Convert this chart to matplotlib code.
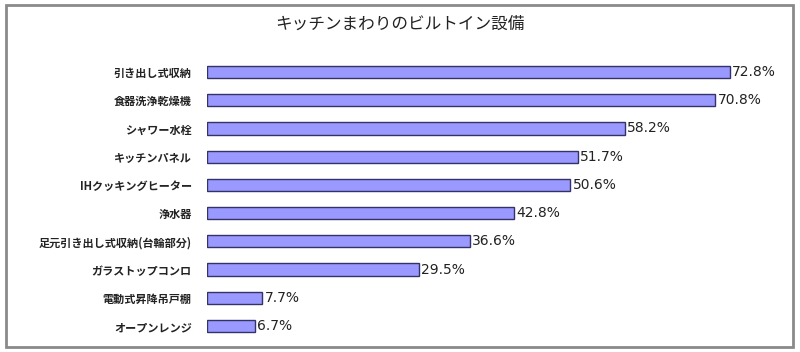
import matplotlib
matplotlib.use("Agg")
import matplotlib.pyplot as plt
from matplotlib.patches import Rectangle

plt.rcParams['font.family'] = ['Noto Sans CJK JP', 'DejaVu Sans']

title = "キッチンまわりのビルトイン設備"
categories = [
    "引き出し式収納",
    "食器洗浄乾燥機",
    "シャワー水栓",
    "キッチンパネル",
    "IHクッキングヒーター",
    "浄水器",
    "足元引き出し式収納(台輪部分)",
    "ガラストップコンロ",
    "電動式昇降吊戸棚",
    "オープンレンジ",
]
values = [72.8, 70.8, 58.2, 51.7, 50.6, 42.8, 36.6, 29.5, 7.7, 6.7]

fig = plt.figure(figsize=(8, 3.52), dpi=100)
fig.patch.set_facecolor("white")

# outer frame
fig.patches.append(Rectangle((6 / 800, 5 / 352), 787 / 800, 342 / 352,
                             transform=fig.transFigure, fill=False,
                             edgecolor="#8a8a8a", linewidth=2.0))

fig.text(0.5, 1 - 24 / 352, title, ha="center", va="center",
         fontsize=12, color="#222222")

ax = fig.add_axes([207 / 800, 1 - 340.1 / 352, 574.4 / 800, 282.2 / 352])
y = list(range(len(categories)))
ax.barh(y, values, height=0.43, color="#9999ff", edgecolor="#333366",
        linewidth=1.0)
ax.set_xlim(0, 80)
ax.set_ylim(len(categories) - 0.5, -0.5)
ax.set_yticks(y)
ax.set_yticklabels(categories, fontsize=8, fontweight="bold", color="#222222")
ax.tick_params(axis="y", length=0, pad=11)
ax.set_xticks([])
for s in ax.spines.values():
    s.set_visible(False)

for yi, v in zip(y, values):
    ax.text(v + 0.3, yi, f"{v:.1f}%", va="center", ha="left",
            fontsize=10, color="#222222", family="DejaVu Sans")

fig.savefig("out.png", dpi=100)
